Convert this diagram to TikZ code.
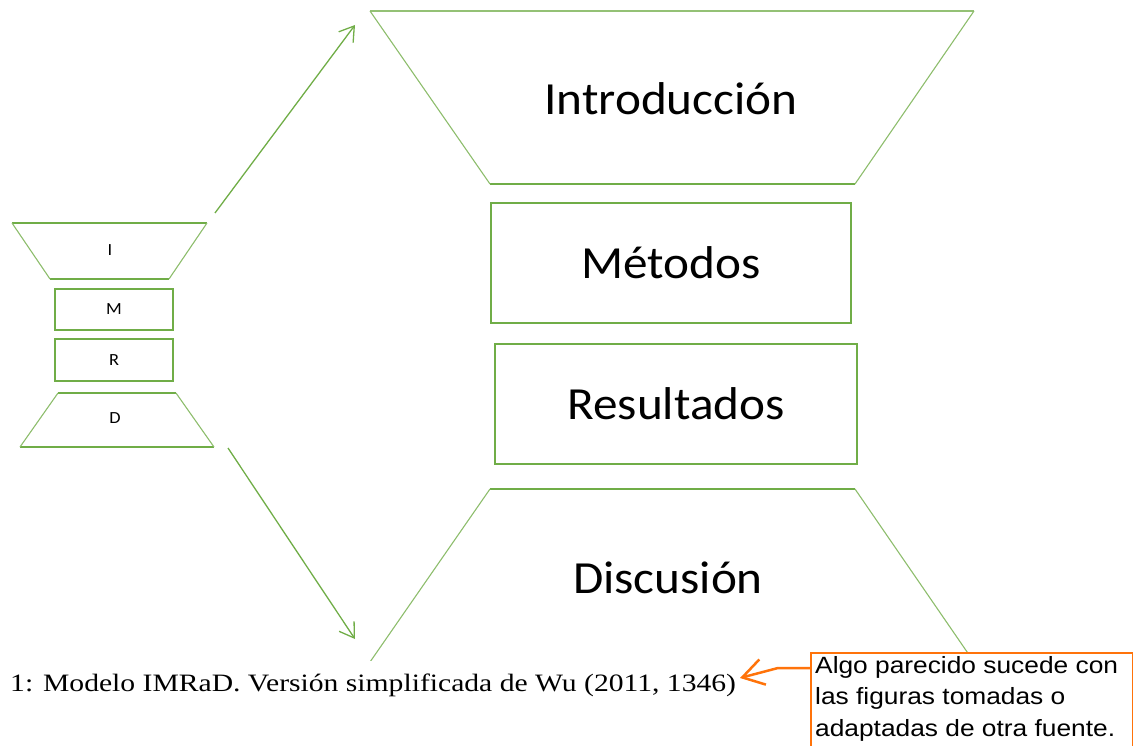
\documentclass[tikz,border=0pt]{standalone}
\usepackage{fontspec}
\usepackage{graphicx}
\setmainfont{Carlito}
\newfontfamily\capfont{Liberation Serif}
\newfontfamily\notefont{Liberation Sans}
\usetikzlibrary{arrows.meta}
\definecolor{shapegreen}{RGB}{112,173,71}
\definecolor{noteorange}{RGB}{255,115,10}
\newcommand{\wider}[2]{\scalebox{#1}[1]{#2}}
\begin{document}
\begin{tikzpicture}[x=1pt,y=-1pt,
  shapeline/.style={draw=shapegreen,line width=1.2pt},
  slantline/.style={draw=shapegreen!80,line width=1.1pt},
  boxshape/.style={shapeline,minimum width=#1,inner sep=0pt},
  bigtext/.style={font=\fontsize{46}{50}\selectfont,text=black},
  smalltext/.style={font=\fontsize{17}{19}\selectfont,text=black},
  greenarrow/.style={draw=shapegreen,line width=1.3pt,-{Straight Barb[length=14pt,width=18pt]}},
  notebox/.style={draw=noteorange,line width=2pt,fill=white,anchor=north west,
    inner sep=0pt,minimum width=322pt,minimum height=110pt},
  notearrow/.style={draw=noteorange,line width=2.5pt,-{Straight Barb[length=21pt,width=26pt]}}
]
\useasboundingbox (0,0) rectangle (1133,746);

% ---- small IMRaD figure ----
\draw[shapeline] (12,223) -- (207,223);
\draw[shapeline] (50,279) -- (169,279);
\draw[slantline] (12,223) -- (50,279);
\draw[slantline] (207,223) -- (169,279);
\node[smalltext] (si) at (110,250) {\wider{1.08}{I}};
\node[boxshape=118pt,minimum height=41pt,smalltext] (sm) at (114,309.5) {\wider{1.08}{M}};
\node[boxshape=118pt,minimum height=42pt,smalltext] (sr) at (114,360) {\wider{1.08}{R}};
\draw[shapeline] (58,393) -- (176,393);
\draw[shapeline] (20,447) -- (214,447);
\draw[slantline] (58,393) -- (20,447);
\draw[slantline] (176,393) -- (214,447);
\node[smalltext] (sd) at (115,418) {\wider{1.08}{D}};

% ---- large IMRaD figure ----
\draw[shapeline,draw=shapegreen!75] (370,11) -- (974,11);
\draw[shapeline] (490,184) -- (855,184);
\draw[slantline] (370,11) -- (490,184);
\draw[slantline] (974,11) -- (855,184);
\node[bigtext] (bi) at (671,99) {\wider{1.07}{Introducción}};
\node[boxshape=360pt,minimum height=120pt,bigtext] (bm) at (671,263) {\wider{1.07}{Métodos}};
\node[boxshape=362pt,minimum height=120pt,bigtext] (br) at (676,404) {\wider{1.07}{Resultados}};
\begin{scope}
\clip (0,0) rectangle (1133,660);
\draw[shapeline] (490,489) -- (855,489);
\draw[slantline] (490,489) -- (370,662);
\draw[slantline] (855,489) -- (974,662);
\end{scope}
\node[bigtext] (bd) at (668,578) {\wider{1.07}{Discusión}};

% ---- arrows ----
\coordinate (a1s) at (215,213);
\coordinate (a1e) at (355,25);
\coordinate (a2s) at (228,448);
\coordinate (a2e) at (355,639);
\draw[greenarrow] (a1s) -- (a1e);
\draw[greenarrow] (a2s) -- (a2e);

% ---- caption ----
\node[anchor=base west,inner sep=0pt,font=\capfont\fontsize{25}{28}\selectfont] (cap) at (10,691)
  {\wider{1.185}{1: Modelo IMRaD. Versión simplificada de Wu (2011, 1346)}};

% ---- note ----
\node[notebox] (note) at (810,652) {};
\node[anchor=north west,inner sep=0pt,align=left,
  font=\notefont\fontsize{23.5}{31.5}\selectfont] (notetext) at (815,656)
  {\wider{1.12}{Algo parecido sucede con}\\\wider{1.12}{las figuras tomadas o}\\\wider{1.12}{adaptadas de otra fuente.}};
\coordinate (nbend) at (778,668);
\coordinate (ntip) at (740,678);
\draw[notearrow] (note.west |- nbend) -- (nbend) -- (ntip);
\end{tikzpicture}
\end{document}
